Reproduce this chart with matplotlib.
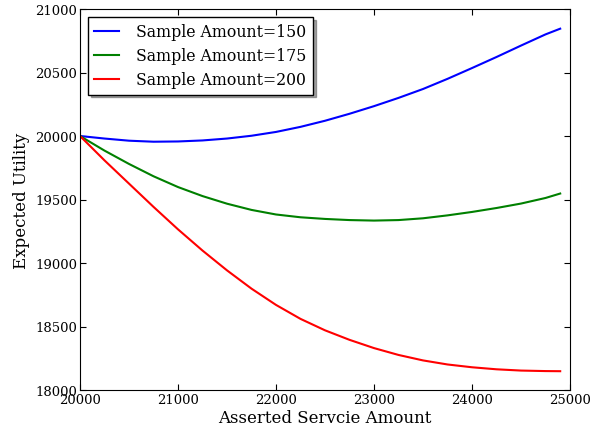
import numpy as np
import matplotlib
matplotlib.use('Agg')
import matplotlib.pyplot as plt

# asserted service amount
x = [20000, 20250, 20500, 20750, 21000, 21250, 21500, 21750, 22000, 22250,
     22500, 22750, 23000, 23250, 23500, 23750, 24000, 24250, 24500, 24750, 24900]

# expected utility for each sample amount
u150 = [20000, 19980, 19963, 19955, 19957, 19965, 19980, 20002, 20032, 20072,
        20120, 20175, 20235, 20300, 20370, 20450, 20535, 20622, 20712, 20800, 20845]
u175 = [20000, 19885, 19780, 19683, 19598, 19527, 19467, 19418, 19382, 19360,
        19347, 19338, 19334, 19338, 19352, 19375, 19402, 19433, 19468, 19512, 19547]
u200 = [20000, 19808, 19625, 19442, 19265, 19098, 18942, 18798, 18670, 18560,
        18470, 18395, 18330, 18276, 18233, 18201, 18179, 18163, 18153, 18149, 18148]

labels = ['Sample Amount=150', 'Sample Amount=175', 'Sample Amount=200']

plt.rcParams['font.family'] = 'DejaVu Serif'
plt.rcParams['xtick.direction'] = 'in'
plt.rcParams['ytick.direction'] = 'in'
plt.rcParams['xtick.top'] = True
plt.rcParams['ytick.right'] = True
plt.rcParams['xtick.major.size'] = 4
plt.rcParams['ytick.major.size'] = 4

fig = plt.figure(figsize=(6.16, 4.35), dpi=100)
ax = fig.add_axes([80/616, 1-391/435, 490/616, 381/435])

ax.plot(x, u150, color='b', lw=1.5, label=labels[0])
ax.plot(x, u175, color='g', lw=1.5, label=labels[1])
ax.plot(x, u200, color='r', lw=1.5, label=labels[2])

ax.set_xlim(20000, 25000)
ax.set_ylim(18000, 21000)
ax.set_xticks(np.arange(20000, 25001, 1000))
ax.set_yticks(np.arange(18000, 21001, 500))
ax.tick_params(labelsize=9.5, pad=2)
ax.set_xlabel('Asserted Servcie Amount', fontsize=12, labelpad=2)
ax.set_ylabel('Expected Utility', fontsize=12, labelpad=4)

leg = ax.legend(loc='upper left', fontsize=11.3, shadow=True, fancybox=False,
                handlelength=1.6, handletextpad=1.1, borderaxespad=0.5,
                labelspacing=0.45)
leg.get_frame().set_edgecolor('black')
leg.get_frame().set_linewidth(1.0)

fig.savefig('out.png', dpi=100)
